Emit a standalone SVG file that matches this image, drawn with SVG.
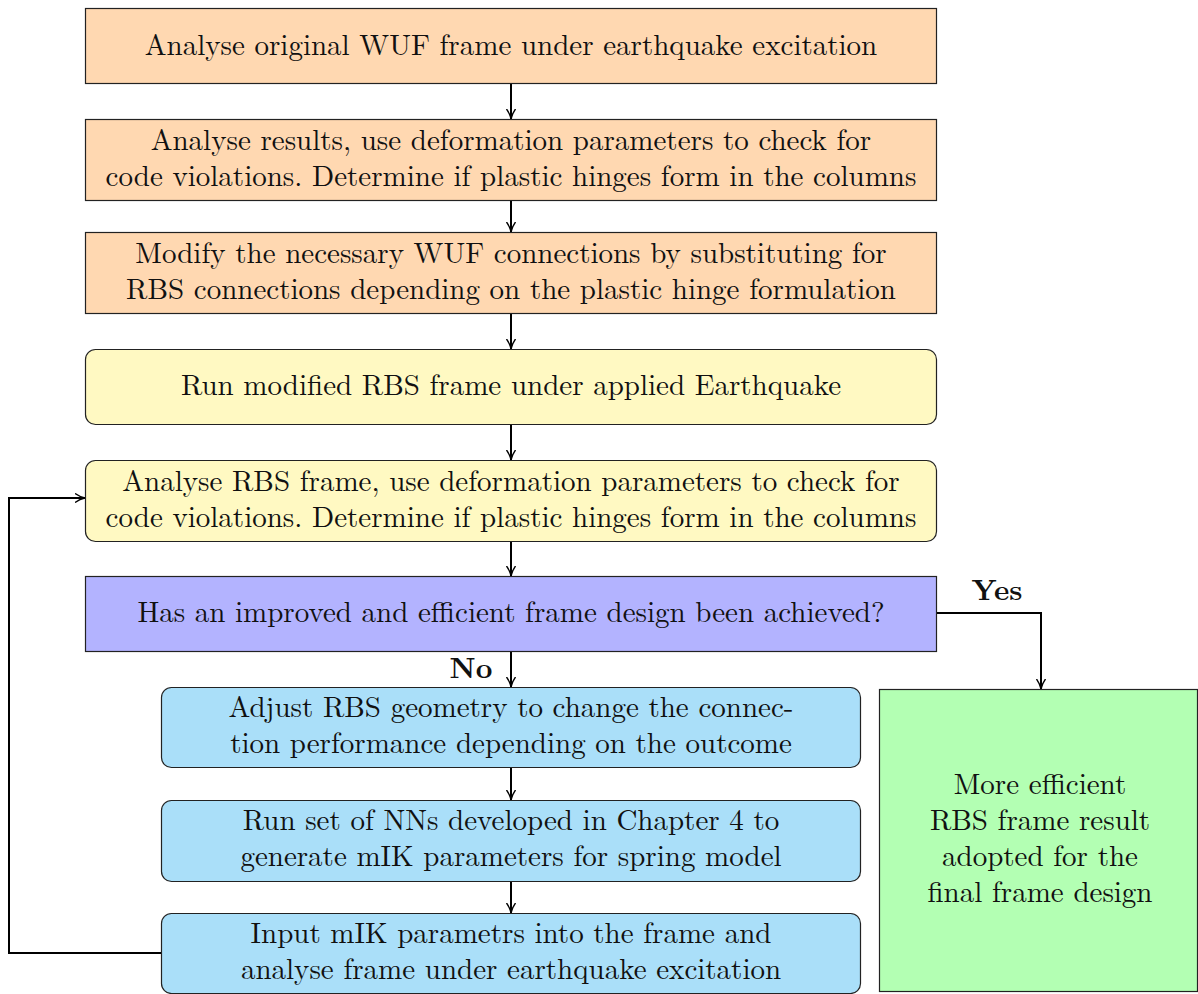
<svg xmlns="http://www.w3.org/2000/svg" width="1198" height="994" viewBox="0 0 1198 994">
  <defs>
    <marker id="arr" viewBox="0 0 10 10" refX="10" refY="5" markerWidth="10" markerHeight="10" markerUnits="userSpaceOnUse" orient="auto">
      <path d="M0,0.5 Q5,4 10,5 Q5,6 0,9.5" fill="none" stroke="#000" stroke-width="1.4"/>
    </marker>
    <style>
      .box { stroke: #222; stroke-width: 1.2; }
      .orange { fill: #FFD8B1; }
      .yellow { fill: #FFF9C2; }
      .purple { fill: #B3B3FF; }
      .blue { fill: #AADFF9; }
      .green { fill: #B3FFB3; }
      text { fill: #111; text-anchor: middle; }
      .bold { font-weight: bold; }
      .conn { fill: none; stroke: #000; stroke-width: 2; marker-end: url(#arr); }
    </style>
  </defs>

  <g font-family="Latin Modern Roman, Liberation Serif, serif" font-size="29">
  <g id="n1">
    <rect class="box orange" x="85.5" y="8.5" width="851" height="75"/>
    <text x="511" y="55">Analyse original WUF frame under earthquake excitation</text>
  </g>
  <g id="n2">
    <rect class="box orange" x="85.5" y="119.5" width="851" height="81"/>
    <text x="511" y="150">Analyse results, use deformation parameters to check for</text>
    <text x="511" y="186">code violations. Determine if plastic hinges form in the columns</text>
  </g>
  <g id="n3">
    <rect class="box orange" x="85.5" y="232.5" width="851" height="81"/>
    <text x="511" y="263">Modify the necessary WUF connections by substituting for</text>
    <text x="511" y="299">RBS connections depending on the plastic hinge formulation</text>
  </g>
  <g id="n4">
    <rect class="box yellow" x="85.5" y="349.5" width="851" height="75" rx="10"/>
    <text x="511" y="395">Run modified RBS frame under applied Earthquake</text>
  </g>
  <g id="n5">
    <rect class="box yellow" x="85.5" y="460.5" width="851" height="81" rx="10"/>
    <text x="511" y="491">Analyse RBS frame, use deformation parameters to check for</text>
    <text x="511" y="527">code violations. Determine if plastic hinges form in the columns</text>
  </g>
  <g id="n6">
    <rect class="box purple" x="85.5" y="576.5" width="851" height="75"/>
    <text x="511" y="622">Has an improved and efficient frame design been achieved?</text>
  </g>
  <g id="n7">
    <rect class="box blue" x="161.5" y="687.5" width="699" height="80" rx="10"/>
    <text x="511" y="717">Adjust RBS geometry to change the connec-</text>
    <text x="511" y="753">tion performance depending on the outcome</text>
  </g>
  <g id="n8">
    <rect class="box blue" x="161.5" y="800.5" width="699" height="81" rx="10"/>
    <text x="511" y="830">Run set of NNs developed in Chapter 4 to</text>
    <text x="511" y="866">generate mIK parameters for spring model</text>
  </g>
  <g id="n9">
    <rect class="box blue" x="161.5" y="913.5" width="699" height="80" rx="10"/>
    <text x="511" y="943">Input mIK parametrs into the frame and</text>
    <text x="511" y="979">analyse frame under earthquake excitation</text>
  </g>
  <g id="n10">
    <rect class="box green" x="879.5" y="689.5" width="318" height="302"/>
    <text x="1040" y="794">More efficient</text>
    <text x="1040" y="830">RBS frame result</text>
    <text x="1040" y="866">adopted for the</text>
    <text x="1040" y="902">final frame design</text>
  </g>

  <g id="connectors">
    <line class="conn" x1="511" y1="84" x2="511" y2="119"/>
    <line class="conn" x1="511" y1="201" x2="511" y2="232"/>
    <line class="conn" x1="511" y1="314" x2="511" y2="349"/>
    <line class="conn" x1="511" y1="425" x2="511" y2="460"/>
    <line class="conn" x1="511" y1="542" x2="511" y2="576"/>
    <line class="conn" x1="511" y1="652" x2="511" y2="687"/>
    <line class="conn" x1="511" y1="768" x2="511" y2="800"/>
    <line class="conn" x1="511" y1="882" x2="511" y2="913"/>
    <polyline class="conn" points="937,613 1041,613 1041,689"/>
    <polyline class="conn" points="161,953 9,953 9,498 85,498"/>
    <text class="bold" x="997" y="600">Yes</text>
    <text class="bold" x="471" y="678">No</text>
  </g>
  </g>
</svg>
